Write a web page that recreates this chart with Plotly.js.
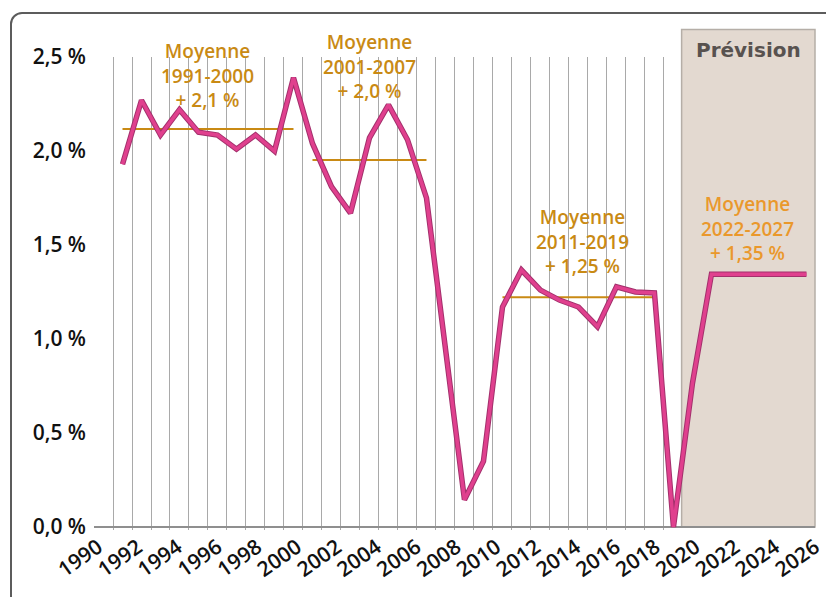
<!DOCTYPE html>
<html>
<head>
<meta charset="utf-8">
<script src="https://cdn.plot.ly/plotly-3.0.1.min.js"></script>
<style>
  html, body { margin: 0; padding: 0; background: #ffffff; overflow: hidden; }
  #frame { position: absolute; left: 10px; top: 12px; width: 900px; height: 700px;
           border: 2px solid #5c5c5c; border-radius: 12px; box-sizing: border-box; }
  #chart { position: absolute; left: 0; top: 0; width: 826px; height: 597px; }
</style>
</head>
<body>
<div id="frame"></div>
<div id="chart"></div>
<script>
// ---- data ----
const years = [1991, 1992, 1993, 1994, 1995, 1996, 1997, 1998, 1999, 2000,
               2001, 2002, 2003, 2004, 2005, 2006, 2007, 2008, 2009, 2010,
               2011, 2012, 2013, 2014, 2015, 2016, 2017, 2018, 2019, 2020,
               2021, 2022, 2023, 2024, 2025, 2026, 2027];
const growth = [1.93, 2.27, 2.085, 2.22, 2.10, 2.085, 2.01, 2.085, 2.00, 2.39,
                2.04, 1.81, 1.67, 2.07, 2.245, 2.06, 1.75, 0.95, 0.145, 0.35,
                1.17, 1.367, 1.26, 1.207, 1.17, 1.065, 1.278, 1.25, 1.245, 0.0,
                0.765, 1.345, 1.345, 1.345, 1.345, 1.345, 1.345];

const avgStart = [1991, 2001, 2011];
const avgEnd   = [2000, 2007, 2019];
const avgValue = [2.117, 1.952, 1.222];

const avgLabels = ['Moyenne<br>1991-2000<br>+ 2,1 %',
                   'Moyenne<br>2001-2007<br>+ 2,0 %',
                   'Moyenne<br>2011-2019<br>+ 1,25 %',
                   'Moyenne<br>2022-2027<br>+ 1,35 %'];
const avgLabelX = [1995.5, 2004.0, 2015.2, 2023.9];
const avgLabelY = [2.404, 2.452, 1.516, 1.59];

const forecastStart = 2020.45;
const forecastLabel = 'Prévision';

const yTickVals = [0, 0.5, 1.0, 1.5, 2.0, 2.5];
const yTickText = ['0,0 %', '0,5 %', '1,0 %', '1,5 %', '2,0 %', '2,5 %'];
const xTickYears = [1990, 1992, 1994, 1996, 1998, 2000, 2002, 2004, 2006, 2008,
                    2010, 2012, 2014, 2016, 2018, 2020, 2022, 2024, 2026];
const gridYears = [];
for (let y = 1989.5; y <= 2019.5; y += 1) gridYears.push(y);

// ---- styles ----
const FONT = '"Open Sans", "Noto Sans", sans-serif';
const pink = '#e0408e';
const pinkEdge = '#a3306c';
const gold = '#c98a14';

const traces = [];
for (let i = 0; i < avgStart.length; i++) {
  traces.push({
    x: [avgStart[i], avgEnd[i]], y: [avgValue[i], avgValue[i]],
    mode: 'lines', line: {color: gold, width: 2},
    showlegend: false, hoverinfo: 'skip'
  });
}
traces.push({x: years, y: growth, mode: 'lines',
  line: {color: pinkEdge, width: 5.5}, showlegend: false, hoverinfo: 'skip'});
traces.push({x: years, y: growth, mode: 'lines',
  line: {color: pink, width: 3.5}, showlegend: false});
traces.push({x: xTickYears, y: xTickYears.map(() => null), xaxis: 'x2', mode: 'lines',
  showlegend: false, hoverinfo: 'skip'});

const annotations = avgLabels.map((t, i) => ({
  x: avgLabelX[i], y: avgLabelY[i], xref: 'x', yref: 'y',
  text: t, showarrow: false, align: 'center', xanchor: 'center', yanchor: 'middle',
  font: {family: FONT, size: 19, weight: 600, color: i === 3 ? '#ea982c' : gold}
}));
annotations.push({
  x: (forecastStart + 2027.45) / 2, y: 1.015, xref: 'x', yref: 'paper',
  text: forecastLabel, showarrow: false, xanchor: 'center', yanchor: 'middle',
  font: {family: '"DejaVu Sans", sans-serif', size: 20, color: '#58524f', weight: 700}
});

const layout = {
  width: 826, height: 597,
  margin: {l: 94, r: 11, t: 57, b: 67},
  paper_bgcolor: 'rgba(0,0,0,0)', plot_bgcolor: 'rgba(0,0,0,0)',
  showlegend: false,
  xaxis: {
    range: [1989.5, 2027.45], tickmode: 'array', tickvals: gridYears,
    showticklabels: false, ticks: '', showgrid: true, gridcolor: '#a9a9a9', gridwidth: 1,
    zeroline: false, showline: false, fixedrange: true
  },
  xaxis2: {
    overlaying: 'x', anchor: 'y', side: 'bottom',
    range: [1989.8, 2026.0], tickmode: 'array', tickvals: xTickYears,
    ticktext: xTickYears.map(String), tickangle: -35,
    showgrid: false, zeroline: false, showline: false, ticks: '',
    tickfont: {family: FONT, size: 21, weight: 600, color: '#111111'}
  },
  yaxis: {
    range: [-0.016, 2.5], tickmode: 'array', tickvals: yTickVals, ticktext: yTickText,
    showgrid: false, zeroline: true, zerolinecolor: '#8f8f8f', zerolinewidth: 1.5,
    showline: false, ticks: '', ticklabelstandoff: 7,
    tickfont: {family: FONT, size: 21, weight: 600, color: '#111111'}
  },
  shapes: [{
    type: 'rect', xref: 'paper', yref: 'paper',
    x0: 0.815, x1: 1.0, y0: 0.0063, y1: 1.058,
    fillcolor: '#e3d9d0', line: {color: '#b5aea7', width: 1.5}, layer: 'below'
  }],
  annotations: annotations
};

Plotly.newPlot('chart', traces, layout, {staticPlot: true, displayModeBar: false});
</script>
</body>
</html>
